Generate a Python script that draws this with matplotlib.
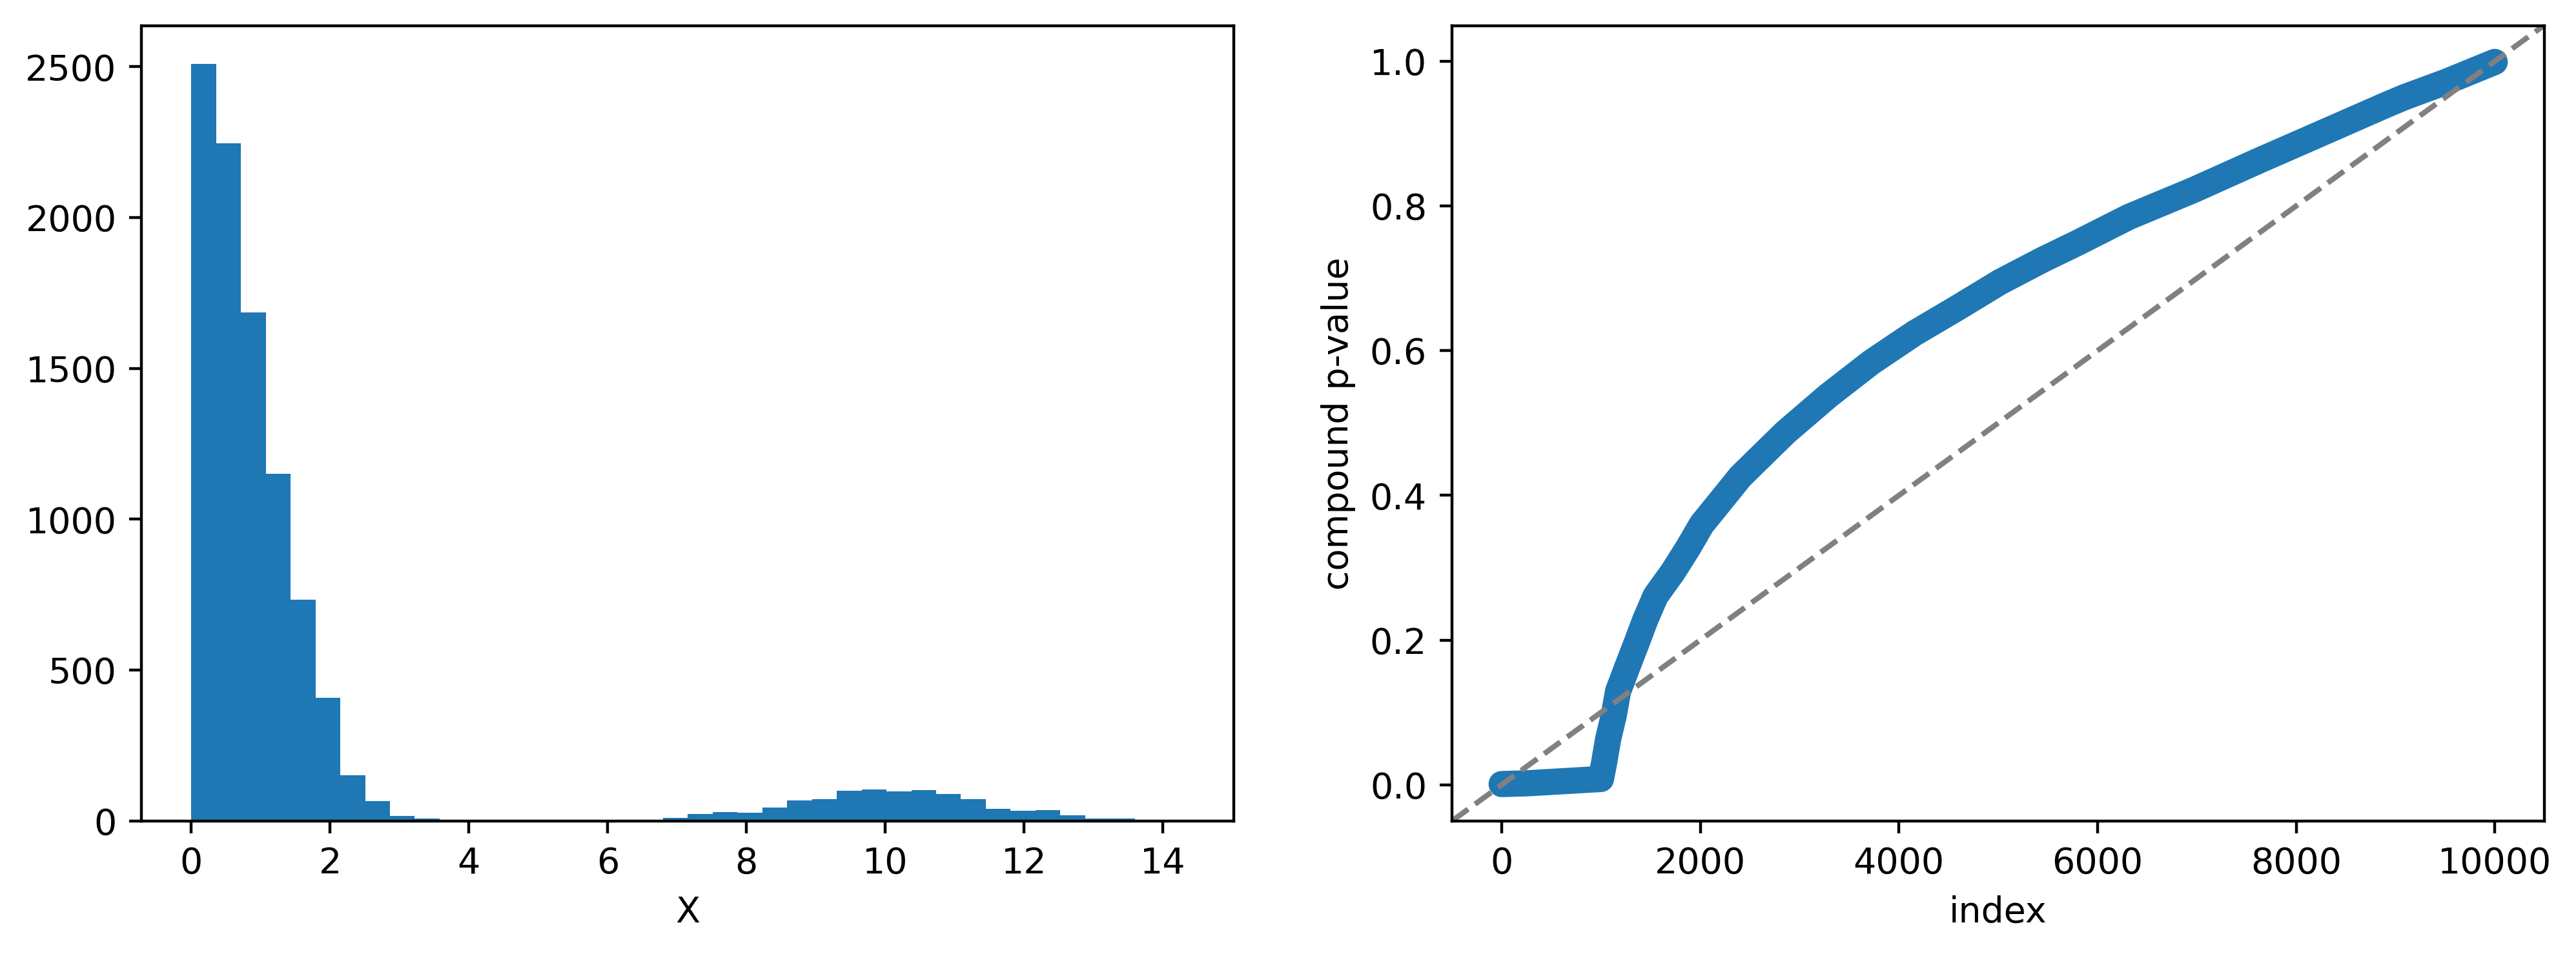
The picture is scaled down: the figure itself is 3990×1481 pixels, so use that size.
import numpy as np
import matplotlib
matplotlib.use("Agg")
from matplotlib import pyplot as plt

# histogram of X: 40 equal bins between 0 and ~14.31
x_min = 0.0
x_max = 14.31
counts = [2510, 2247, 1686, 1151, 734, 409, 152, 66, 16, 8,
          0, 0, 0, 0, 0, 0, 0, 0, 0,
          10, 23, 29, 27, 45, 68, 72, 101, 104, 98, 102,
          89, 72, 40, 34, 36, 19, 8, 8,
          0, 0]

# sorted compound p-values (index, value)
n_points = 10000
p_index = [0, 250, 500, 750, 1000, 1031, 1072, 1129, 1172, 1263,
           1356, 1446, 1550, 1723, 1875, 2015, 2210, 2404, 2642, 2858,
           3291, 3723, 4156, 4588, 5020, 5453, 5799, 6318, 6966, 7615,
           8264, 8912, 9085, 9518, 9999]
p_value = [0.001, 0.002, 0.004, 0.006, 0.008, 0.030, 0.063, 0.096, 0.129, 0.162,
           0.195, 0.228, 0.261, 0.294, 0.327, 0.360, 0.393, 0.426, 0.458, 0.487,
           0.538, 0.584, 0.624, 0.659, 0.695, 0.726, 0.749, 0.785, 0.822, 0.862,
           0.901, 0.940, 0.950, 0.972, 0.999]

dpi = 400
fig = plt.figure(figsize=(3991 / dpi, 1481 / dpi), dpi=dpi)
ax1 = fig.add_axes([219.5 / 3991, 0.1413, 1692 / 3991, 0.8317])
ax2 = fig.add_axes([2249 / 3991, 0.1413, 1692 / 3991, 0.8317])

edges = np.linspace(x_min, x_max, len(counts) + 1)
ax1.hist(edges[:-1], bins=edges, weights=counts)
ax1.set_xlabel('X')

ax2.plot(p_index, p_value, color='C0', lw=7.3,
         solid_capstyle='round', solid_joinstyle='round')
ax2.axline((0, 0), slope=1 / n_points, ls='--', color='gray')
ax2.set_xlabel('index')
ax2.set_ylabel('compound p-value')

fig.savefig('out.png', dpi=dpi)
